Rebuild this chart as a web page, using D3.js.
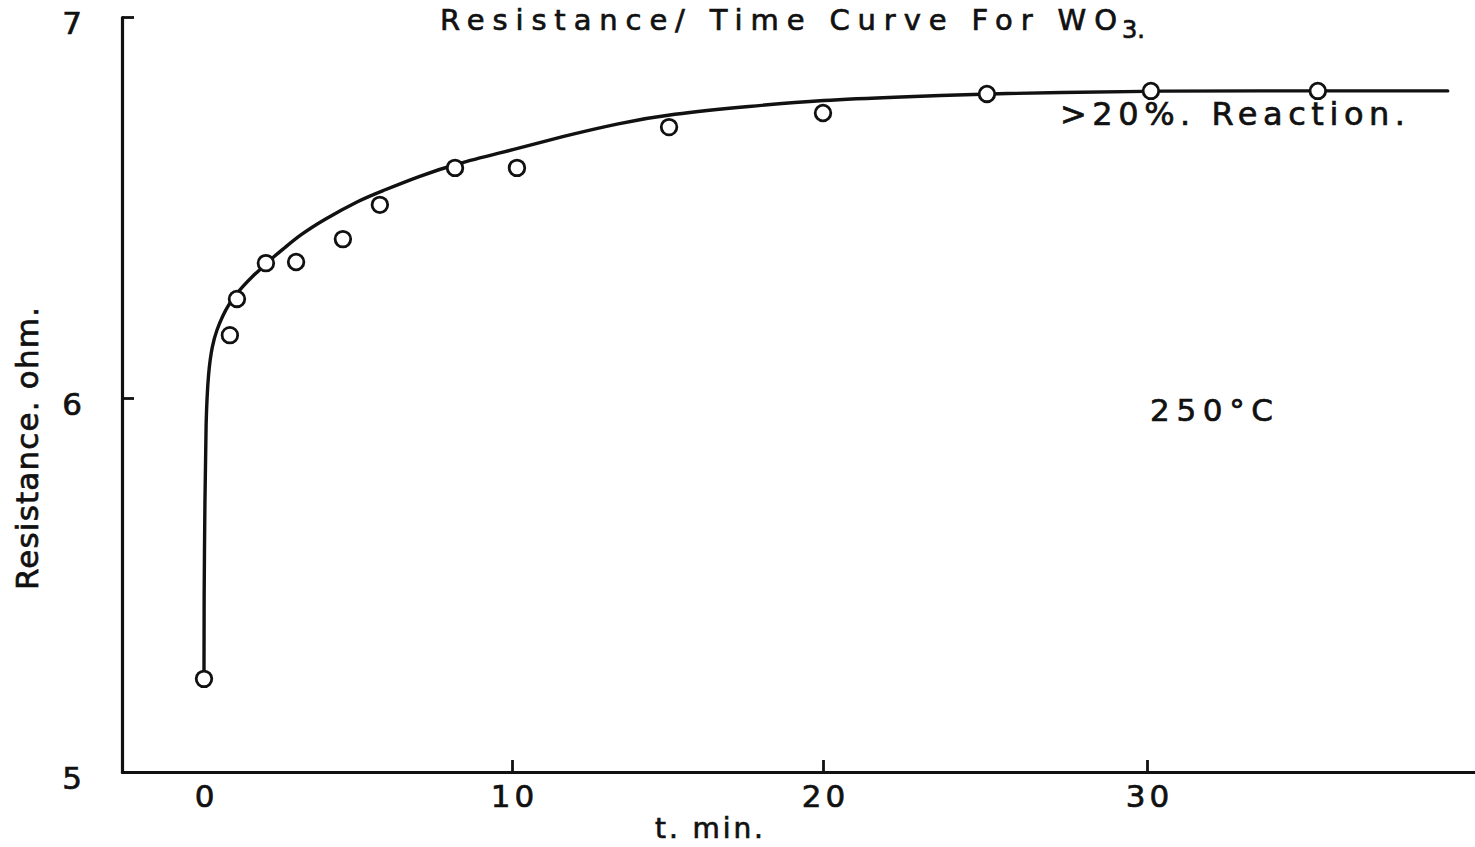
<!DOCTYPE html>
<html><head><meta charset="utf-8">
<script src="https://cdn.jsdelivr.net/npm/d3@7"></script>
<style>
html,body{margin:0;padding:0;background:#fff;}
svg{display:block;}
text{font-family:"DejaVu Sans",sans-serif;fill:#111;stroke:#111;stroke-width:0.7px;}
</style></head><body>
<svg id="c" width="1475" height="847"></svg>
<script>
// measured points (t in min, resistance in ohm)
const pointT = [0, 0.84, 1.07, 2.01, 2.99, 4.51, 5.71, 8.15, 10.16, 15.05, 20.0, 25.06, 30.12, 35.26];
const pointR = [5.249, 6.165, 6.260, 6.354, 6.357, 6.417, 6.507, 6.604, 6.604, 6.711, 6.748, 6.798, 6.806, 6.806];
// hand-drawn smooth curve
const curveT = [0, 0, 0.03, 0.06, 0.14, 0.27, 0.42, 0.6, 0.8, 1.0, 1.25, 1.55, 1.9, 2.25, 2.6, 3.12, 3.86, 5.06, 5.71, 7.01, 8.15, 10.16, 11.54, 13.47, 15.08, 17.65, 20.0, 22.38, 24.94, 27.31, 30.09, 35.26, 39.26];
const curveR = [5.249, 5.46, 5.727, 5.941, 6.07, 6.14, 6.18, 6.215, 6.245, 6.268, 6.292, 6.318, 6.343, 6.37, 6.393, 6.428, 6.467, 6.520, 6.541, 6.583, 6.614, 6.654, 6.685, 6.722, 6.745, 6.766, 6.782, 6.790, 6.798, 6.802, 6.806, 6.806, 6.806];
const xTicks = [0, 10, 20, 30];
const yTicks = [5, 6, 7];
const xDomain = [-2.66, 0, 10, 20, 30, 40.1];
const yDomain = [5, 6, 7];
const titleMain = "Resistance/ Time Curve For WO";
const titleSub = "3";
const xTitle = "t. min.";
const yTitle = "Resistance. ohm.";
const note1 = ">20%. Reaction.";
const note2 = "250°C";

const svg = d3.select("#c");
const ink = "#111";

const x = d3.scaleLinear().domain(xDomain).range([122, 204, 512, 823, 1147, 1475]);
const y = d3.scaleLinear().domain(yDomain).range([772, 398, 17]);

// axes
const gx = svg.append("g").attr("transform", "translate(0,772)")
  .call(d3.axisBottom(x).tickValues(xTicks).tickSize(-12).tickSizeOuter(0).tickPadding(13).tickFormat(d3.format("d")));
const gy = svg.append("g").attr("transform", "translate(122,0)")
  .call(d3.axisLeft(y).tickValues(yTicks).tickSize(-12).tickSizeOuter(0).tickPadding(40).tickFormat(d3.format("d")));

[gx, gy].forEach(g => {
  g.attr("font-family", null).attr("font-size", null);
  g.select(".domain").attr("stroke", ink).attr("stroke-width", 3.2).attr("stroke-linecap", "round");
  g.selectAll(".tick line").attr("stroke", ink).attr("stroke-width", 2.8);
  g.selectAll(".tick text").attr("fill", ink).style("font-size", "31px");
});
gx.selectAll(".tick").filter(d => d === 0).select("line").remove();
gx.selectAll(".tick text").style("letter-spacing", "4px").attr("dx", "2px");
gy.selectAll(".tick text").attr("transform", "translate(0,7)");

// curve
const line = d3.line().x(d => x(d[0])).y(d => y(d[1])).curve(d3.curveBasis);
svg.append("path").datum(curveT.map((t, i) => [t, curveR[i]]))
  .attr("d", line).attr("fill", "none").attr("stroke", ink).attr("stroke-width", 3.4)
  .attr("stroke-linecap", "round").attr("stroke-linejoin", "round");

// points
svg.append("g").selectAll("circle").data(pointT.map((t, i) => [t, pointR[i]])).join("circle")
  .attr("cx", d => x(d[0])).attr("cy", d => y(d[1])).attr("r", 7.8)
  .attr("fill", "#fff").attr("stroke", ink).attr("stroke-width", 2.8);

// texts
svg.append("text").attr("x", 440).attr("y", 30).style("font-size", "29px")
  .attr("textLength", 677).attr("lengthAdjust", "spacing").text(titleMain);
svg.append("text").attr("x", 1122).attr("y", 38).style("font-size", "24px").text(titleSub + ".");

svg.append("text").attr("x", 655).attr("y", 838).style("font-size", "28px")
  .attr("textLength", 108).attr("lengthAdjust", "spacing").text(xTitle);

svg.append("text").attr("transform", "translate(38,590) rotate(-90)").style("font-size", "31px")
  .attr("textLength", 283).attr("lengthAdjust", "spacing").text(yTitle);

svg.append("text").attr("x", 1060).attr("y", 125).style("font-size", "32px")
  .attr("textLength", 345).attr("lengthAdjust", "spacing").text(note1);

svg.append("text").attr("x", 1150).attr("y", 421).style("font-size", "31px")
  .attr("textLength", 123).attr("lengthAdjust", "spacing").text(note2);
</script>
</body></html>
